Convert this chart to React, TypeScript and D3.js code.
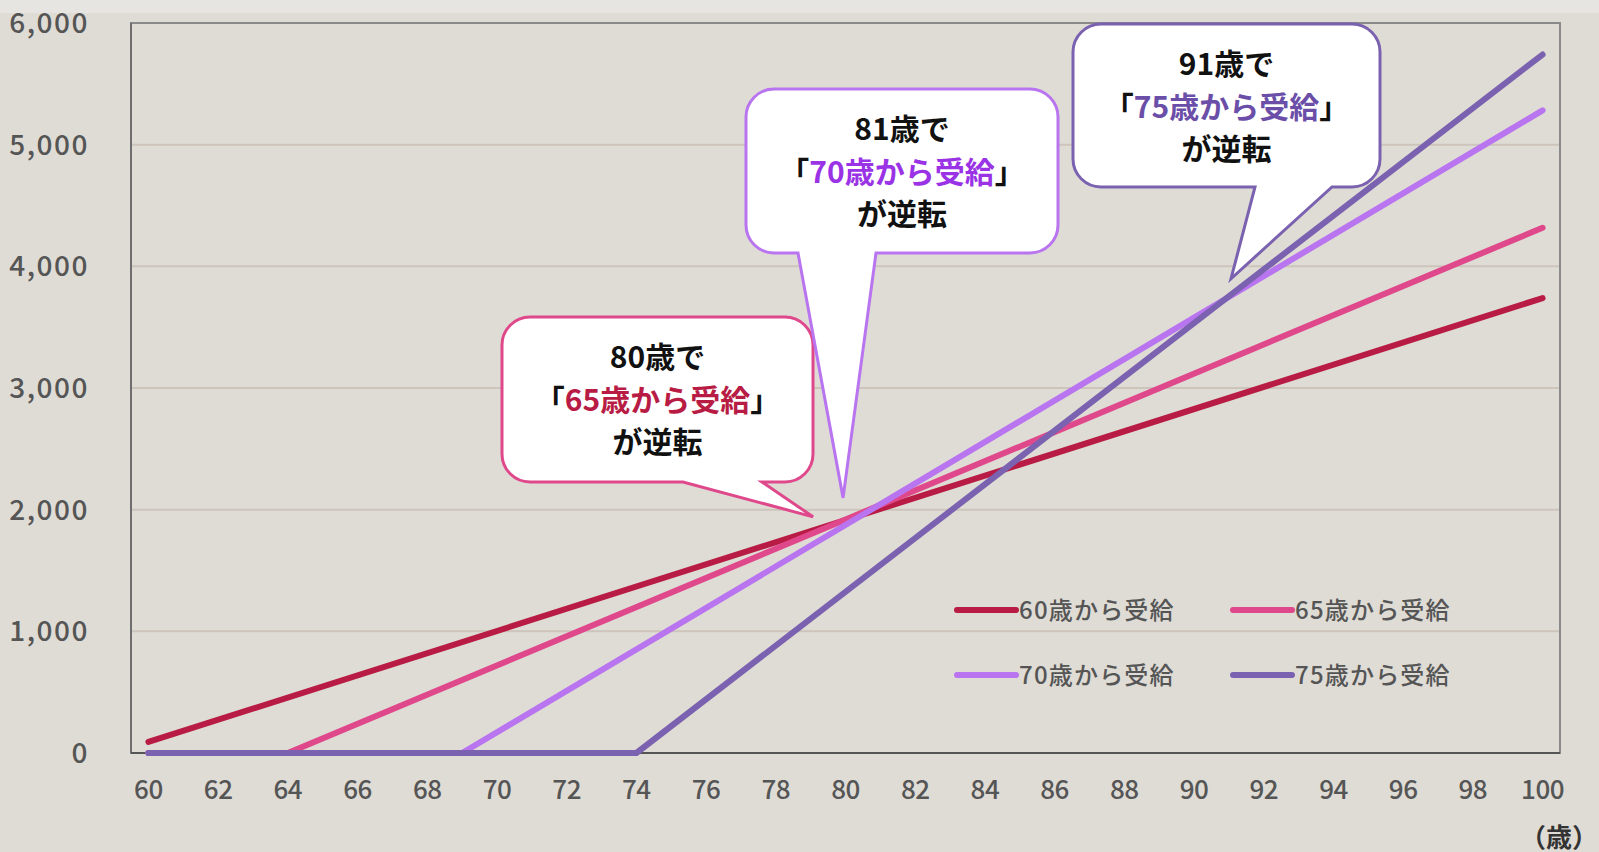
import React from "react";
import * as d3 from "d3";

const W = 1599;
const H = 852;

// Data (万円, cumulative)
const seriesNames = ["60歳から受給", "65歳から受給", "70歳から受給", "75歳から受給"];
const seriesColors = ["#b81c44", "#e0488c", "#b974f0", "#7b62b0"];
const ages60 = [60, 100];
const values60 = [91, 3739];
const ages65 = [60, 64, 100];
const values65 = [0, 0, 4317];
const ages70 = [60, 69, 100];
const values70 = [0, 0, 5282];
const ages75 = [60, 74, 100];
const values75 = [0, 0, 5741];

const xTicks = d3.range(60, 101, 2);
const yTicks = [0, 1000, 2000, 3000, 4000, 5000, 6000];

// callouts: crossing points they point at
const callouts = [
  { age: 79.07, value: 1941, line1: "80歳で", label: "65歳から受給", color: "#e0488c", textColor: "#b81c44",
    box: [502, 317, 813, 482], tail: [683, 762] },
  { age: 79.93, value: 2097, line1: "81歳で", label: "70歳から受給", color: "#b974f0", textColor: "#9a32e6",
    box: [746, 89, 1058, 253], tail: [798, 876] },
  { age: 91.06, value: 3898, line1: "91歳で", label: "75歳から受給", color: "#7b62b0", textColor: "#6a4ea8",
    box: [1073, 24, 1380, 187], tail: [1255, 1332] },
];

const left = 131, right = 1560, top = 23, bottom = 753;

export default function App() {
  const x = d3.scaleLinear().domain([59.5, 100.5]).range([left, right]);
  const y = d3.scaleLinear().domain([0, 6000]).range([bottom, top]);
  const line = d3.line<[number, number]>().x((d) => x(d[0])).y((d) => y(d[1]));
  const series = [
    d3.zip(ages60, values60),
    d3.zip(ages65, values65),
    d3.zip(ages70, values70),
    d3.zip(ages75, values75),
  ] as [number, number][][];

  const font = "'Noto Sans CJK JP', 'Noto Sans', sans-serif";

  const bubble = (c: any) => {
    const [x0, y0, x1, y1] = c.box;
    const r = 28;
    const tx = x(c.age), ty = y(c.value);
    const [b1, b2] = c.tail;
    return `M${x0 + r},${y0} H${x1 - r} A${r},${r} 0 0 1 ${x1},${y0 + r} V${y1 - r} A${r},${r} 0 0 1 ${x1 - r},${y1} H${b2} L${tx},${ty} L${b1},${y1} H${x0 + r} A${r},${r} 0 0 1 ${x0},${y1 - r} V${y0 + r} A${r},${r} 0 0 1 ${x0 + r},${y0} Z`;
  };

  const legendItems = [
    { lx: 957, ly: 610 },
    { lx: 1233, ly: 610 },
    { lx: 957, ly: 675 },
    { lx: 1233, ly: 675 },
  ];

  return (
    <svg width={W} height={H} style={{ position: "absolute", left: 0, top: 0 }} fontFamily={font}>
      <rect x={0} y={0} width={W} height={H} fill="#dfdcd5" />
      <rect x={0} y={0} width={W} height={13} fill="#e7e5e1" />
      {/* gridlines */}
      {yTicks.slice(1, -1).map((t) => (
        <line key={t} x1={left} x2={right} y1={y(t)} y2={y(t)} stroke="#cdc5bb" strokeWidth={2} />
      ))}
      {/* frame */}
      <rect x={left} y={top} width={right - left} height={bottom - top} fill="none" stroke="#8a8a8a" strokeWidth={2} />
      <line x1={left} x2={left} y1={top} y2={bottom} stroke="#6e6e6e" strokeWidth={2} />
      <line x1={left} x2={right} y1={bottom} y2={bottom} stroke="#555" strokeWidth={2} />
      {/* y labels */}
      {yTicks.map((t) => (
        <text key={t} x={89} y={y(t) - 2} textAnchor="end" dominantBaseline="central" fontSize={28}
          fontWeight={500} fill="#555" letterSpacing={1.5}>
          {d3.format(",")(t)}
        </text>
      ))}
      {/* x labels */}
      {xTicks.map((t) => (
        <text key={t} x={x(t)} y={787} textAnchor="middle" dominantBaseline="central" fontSize={26}
          fontWeight={500} fill="#555" letterSpacing={-0.5}>
          {t}
        </text>
      ))}
      <text x={1598} y={835} textAnchor="end" dominantBaseline="central" fontSize={26} fontWeight={700} fill="#333">
        （歳）
      </text>
      {/* series lines */}
      {series.map((s, i) => (
        <path key={i} d={line(s) || ""} fill="none" stroke={seriesColors[i]} strokeWidth={6}
          strokeLinecap="round" strokeLinejoin="round" />
      ))}
      {/* legend */}
      {legendItems.map((l, i) => (
        <g key={i}>
          <line x1={l.lx} x2={l.lx + 59} y1={l.ly} y2={l.ly} stroke={seriesColors[i]} strokeWidth={6} strokeLinecap="round" />
          <text x={l.lx + 62} y={l.ly - 2} dominantBaseline="central" fontSize={24} fontWeight={500} fill="#555" letterSpacing={1.2}>
            {seriesNames[i]}
          </text>
        </g>
      ))}
      {/* callouts */}
      {callouts.map((c, i) => {
        const cx = (c.box[0] + c.box[2]) / 2;
        const y0 = c.box[1];
        return (
          <g key={i}>
            <path d={bubble(c)} fill="#ffffff" stroke={c.color} strokeWidth={3} strokeLinejoin="miter" />
            <text x={cx} y={y0 + 38} textAnchor="middle" dominantBaseline="central" fontSize={30} fontWeight={700} fill="#111">
              {c.line1}
            </text>
            <text x={cx} y={y0 + 81} textAnchor="middle" dominantBaseline="central" fontSize={30} fontWeight={700} fill="#111">
              <tspan>「</tspan>
              <tspan fill={c.textColor}>{c.label}</tspan>
              <tspan>」</tspan>
            </text>
            <text x={cx} y={y0 + 123} textAnchor="middle" dominantBaseline="central" fontSize={30} fontWeight={700} fill="#111">
              が逆転
            </text>
          </g>
        );
      })}
    </svg>
  );
}
